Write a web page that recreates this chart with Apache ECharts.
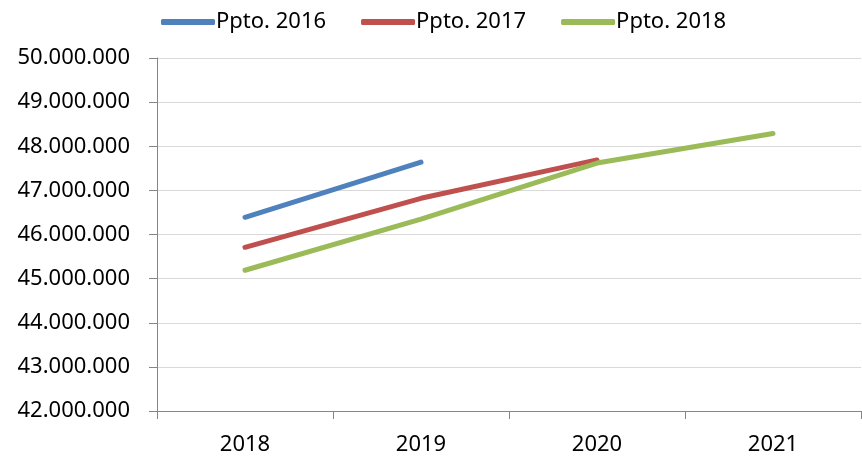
<!DOCTYPE html>
<html><head><meta charset="utf-8">
<script src="https://cdn.jsdelivr.net/npm/echarts@6/dist/echarts.min.js"></script>
<style>html,body{margin:0;padding:0;background:#fff}#c{width:862px;height:456px}</style>
</head><body><div id="c"></div>
<script>
var categories = ['2018', '2019', '2020', '2021'];
var ppto2016 = [46390000, 47640000, null, null];
var ppto2017 = [45710000, 46820000, 47690000, null];
var ppto2018 = [45190000, 46350000, 47620000, 48290000];
var seriesNames = ['Ppto. 2016', 'Ppto. 2017', 'Ppto. 2018'];

var FONT = '"Noto Sans", sans-serif';
function fmt(v){ return String(v).replace(/\B(?=(\d{3})+(?!\d))/g, '.'); }
var chart = echarts.init(document.getElementById('c'), null, {renderer:'canvas'});
function mk(name, data, color){
  return {name:name, type:'line', data:data, symbol:'none', connectNulls:false,
    lineStyle:{width:5, color:color, cap:'round', join:'round'}, itemStyle:{color:color}};
}
chart.setOption({
  animation:false,
  textStyle:{fontFamily:FONT},
  legend:{top:6, left:156, itemWidth:54, itemHeight:6, itemGap:35, icon:'roundRect',
    textStyle:{fontFamily:FONT, fontSize:22, color:'#000', padding:[0,0,0,-4]},
    data:seriesNames},
  grid:{left:157, right:1, top:58, bottom:45, containLabel:false},
  xAxis:{type:'category', data:categories, boundaryGap:true,
    axisLine:{lineStyle:{color:'#868686', width:1}},
    axisTick:{show:true, length:8, lineStyle:{color:'#868686'}},
    axisLabel:{fontFamily:FONT, fontSize:22, color:'#000', margin:23}},
  yAxis:{type:'value', min:42000000, max:50000000, interval:1000000,
    axisLine:{show:true, lineStyle:{color:'#868686', width:1}},
    axisTick:{show:true, length:8, lineStyle:{color:'#868686'}},
    splitLine:{lineStyle:{color:'#d9d9d9', width:1}},
    axisLabel:{fontFamily:FONT, fontSize:22, color:'#000', margin:27, formatter:fmt}},
  series:[mk(seriesNames[0], ppto2016, '#4f81bd'), mk(seriesNames[1], ppto2017, '#c0504d'), mk(seriesNames[2], ppto2018, '#9bbb59')]
});
</script></body></html>
